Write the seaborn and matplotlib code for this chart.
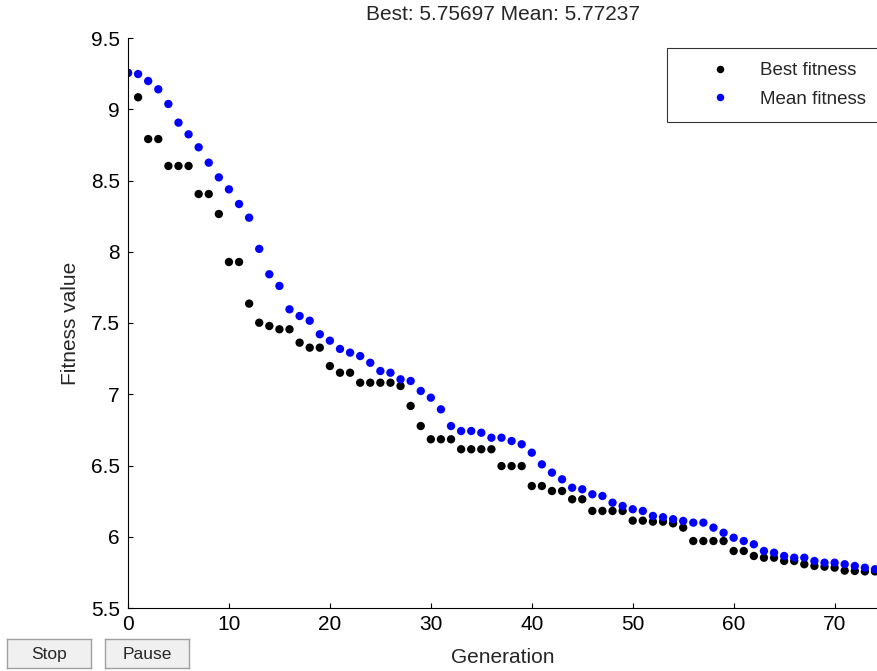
import numpy as np
import pandas as pd
import matplotlib
matplotlib.use("Agg")
import matplotlib.pyplot as plt
import seaborn as sns

# ---------------------------------------------------------------------------
# Data
# ---------------------------------------------------------------------------

generations = list(range(75))

best_fitness = [
    9.255, 9.084, 8.791, 8.791, 8.602, 8.602, 8.602, 8.405, 8.405, 8.265,
    7.928, 7.928, 7.636, 7.502, 7.479, 7.456, 7.456, 7.362, 7.327, 7.327,
    7.198, 7.151, 7.151, 7.081, 7.081, 7.081, 7.081, 7.058, 6.918, 6.777,
    6.684, 6.684, 6.684, 6.614, 6.614, 6.614, 6.614, 6.496, 6.496, 6.496,
    6.356, 6.356, 6.321, 6.321, 6.263, 6.263, 6.181, 6.181, 6.181, 6.181,
    6.113, 6.113, 6.106, 6.106, 6.094, 6.064, 5.970, 5.970, 5.970, 5.970,
    5.900, 5.900, 5.865, 5.853, 5.853, 5.830, 5.830, 5.807, 5.795, 5.790,
    5.783, 5.762, 5.760, 5.757, 5.757,
]

mean_fitness = [
    9.256, 9.247, 9.198, 9.140, 9.037, 8.906, 8.824, 8.733, 8.625, 8.522,
    8.438, 8.335, 8.239, 8.020, 7.842, 7.760, 7.596, 7.549, 7.516, 7.421,
    7.376, 7.318, 7.292, 7.268, 7.221, 7.163, 7.151, 7.105, 7.093, 7.023,
    6.976, 6.894, 6.777, 6.742, 6.742, 6.730, 6.695, 6.695, 6.672, 6.649,
    6.590, 6.508, 6.450, 6.403, 6.344, 6.333, 6.298, 6.286, 6.239, 6.216,
    6.193, 6.181, 6.146, 6.137, 6.123, 6.111, 6.099, 6.099, 6.064, 6.028,
    5.993, 5.970, 5.947, 5.900, 5.888, 5.865, 5.853, 5.853, 5.830, 5.818,
    5.818, 5.807, 5.795, 5.783, 5.772,
]

y_ticks = [5.5, 6, 6.5, 7, 7.5, 8, 8.5, 9, 9.5]
y_tick_labels = ["5.5", "6", "6.5", "7", "7.5", "8", "8.5", "9", "9.5"]
x_ticks = [0, 10, 20, 30, 40, 50, 60, 70]

# best first so that the mean dots sit on top
df = pd.concat([
    pd.DataFrame({"Generation": generations, "Fitness": best_fitness,
                  "Series": "Best fitness"}),
    pd.DataFrame({"Generation": generations, "Fitness": mean_fitness,
                  "Series": "Mean fitness"}),
], ignore_index=True)

# ---------------------------------------------------------------------------
# Plot
# ---------------------------------------------------------------------------

sns.set_theme(style="white")
plt.rcParams["font.family"] = ["Liberation Sans", "DejaVu Sans"]

fig = plt.figure(figsize=(8.77, 6.71), dpi=100)
ax = fig.add_axes([128 / 877, 63 / 671, 749 / 877, 570 / 671])

sns.scatterplot(
    data=df, x="Generation", y="Fitness", hue="Series",
    palette={"Best fitness": "black", "Mean fitness": "#0000ff"},
    s=36, linewidth=0, ax=ax,
)

ax.set_xlim(0, 74.2)
ax.set_ylim(5.5, 9.5)
ax.set_xticks(x_ticks)
ax.set_yticks(y_ticks)
ax.set_yticklabels(y_tick_labels)
ax.tick_params(direction="in", length=3.5, width=0.8, labelsize=15,
               colors="black", bottom=True, left=True)
ax.tick_params(axis="y", pad=6)
ax.tick_params(axis="x", pad=5)

for side in ("top", "right"):
    ax.spines[side].set_visible(False)
for side in ("left", "bottom"):
    ax.spines[side].set_color("black")
    ax.spines[side].set_linewidth(0.8)

ax.set_xlabel("Generation", fontsize=15, labelpad=10)
ax.set_ylabel("Fitness value", fontsize=15, labelpad=8)
ax.set_title("Best: 5.75697 Mean: 5.77237", fontsize=15, pad=13)

leg = ax.legend(loc="upper left",
                bbox_to_anchor=((667 - 128) / 749, (608 - 48) / 570),
                borderaxespad=0, fontsize=13.5, frameon=True, fancybox=False,
                borderpad=0.75, handlelength=4.2, handletextpad=0.0,
                markerscale=0.9, labelspacing=0.6)
leg.get_frame().set_edgecolor("black")
leg.get_frame().set_linewidth(0.8)

# Stop / Pause buttons of the GA window
for label, x0 in (("Stop", 7), ("Pause", 105)):
    bax = fig.add_axes([x0 / 877, 3 / 671, 84 / 877, 29 / 671])
    bax.set_facecolor("#f0f0f0")
    bax.set_xticks([])
    bax.set_yticks([])
    for sp in bax.spines.values():
        sp.set_color("#a0a0a0")
        sp.set_linewidth(1)
    bax.text(0.5, 0.47, label, ha="center", va="center", fontsize=12.5,
             transform=bax.transAxes)

fig.savefig("out.png", dpi=100, facecolor="white")
